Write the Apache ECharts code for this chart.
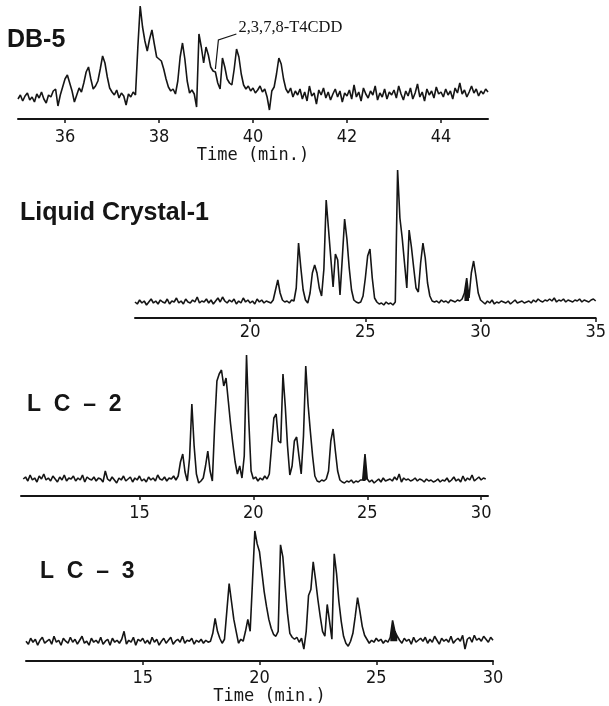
<!DOCTYPE html>
<html>
<head>
<meta charset="utf-8">
<script src="https://cdn.jsdelivr.net/npm/echarts@6/dist/echarts.min.js"></script>
<style>
html, body { margin: 0; padding: 0; background: #fff; }
#chart { width: 609px; height: 706px; }
</style>
</head>
<body>
<div id="chart"></div>
<script>
// DB-5 trace, 35.00 .. 45.00 min, one reading every 0.05 min
var db5Start = 35, db5Step = 0.05;
var db5 = [
    20, 24, 18, 23, 26, 19, 22, 17, 25, 21, 27, 20, 16, 24, 22, 28, 30, 13, 24, 32,
    40, 44, 36, 28, 17, 24, 31, 27, 36, 47, 52, 40, 30, 33, 38, 50, 63, 56, 42, 31,
    27, 24, 29, 21, 26, 23, 14, 25, 22, 27, 24, 72, 113, 92, 78, 68, 80, 89, 75, 62,
    60, 58, 50, 40, 32, 28, 30, 25, 38, 62, 76, 60, 38, 26, 29, 25, 12, 85, 72, 56,
    72, 64, 52, 48, 47, 36, 30, 61, 52, 40, 36, 34, 50, 70, 62, 45, 34, 30, 33, 28,
    31, 26, 29, 33, 27, 30, 22, 9, 28, 32, 45, 61, 55, 40, 30, 26, 31, 22, 28, 24,
    30, 20, 27, 18, 33, 23, 26, 15, 29, 24, 31, 21, 27, 19, 25, 30, 22, 28, 17, 26,
    23, 29, 20, 34, 22, 27, 18, 31, 25, 21, 28, 24, 33, 19, 26, 22, 30, 20, 27, 24,
    29, 21, 33, 25, 19, 28, 23, 31, 20, 26, 35, 22, 27, 18, 30, 24, 28, 21, 32, 25,
    27, 22, 30, 24, 28, 20, 31, 26, 36, 25, 29, 22, 27, 33, 26, 30, 23, 28, 25, 30, 27
];
var db5Ticks = [36, 38, 40, 42, 44];
var db5PeakTime = 39.2;
var db5PeakName = '2,3,7,8-T4CDD';

// Liquid Crystal-1, 15.0 .. 35.0 min every 0.1 min
var lc1Start = 15, lc1Step = 0.1;
var lc1 = [
    16, 14, 18, 15, 17, 13, 16, 19, 15, 17,
    14, 18, 16, 15, 19, 14, 17, 16, 20, 15,
    17, 14, 19, 16, 15, 18, 16, 21, 15, 17,
    16, 19, 15, 18, 14, 17, 20, 16, 21, 17,
    15, 18, 16, 19, 14, 17, 15, 20, 16, 18,
    15, 17, 14, 19, 16, 18, 15, 17, 16, 15,
    18, 28, 38, 25, 18, 16, 17, 15, 18, 17,
    30, 75, 50, 28, 18, 15, 25, 45, 53, 45,
    30, 22, 49, 118, 89, 60, 31, 64, 58, 23,
    60, 99, 79, 50, 28, 18, 16, 15, 16, 22,
    40, 62, 69, 40, 20, 16, 14, 15, 13, 16,
    14, 15, 13, 16, 148, 100, 80, 55, 30, 88,
    71, 50, 30, 26, 55, 75, 60, 35, 22, 17,
    16, 17, 15, 18, 16, 17, 15, 18, 17, 16,
    18, 17, 19, 25, 40, 20, 45, 57, 42, 25,
    18, 16, 14, 17, 15, 18, 14, 16, 15, 17,
    16, 15, 17, 14, 16, 18, 15, 16, 17, 15,
    16, 17, 15, 18, 16, 19, 17, 16, 18, 17,
    19, 17, 20, 16, 18, 17, 19, 16, 18, 17,
    16, 18, 17, 19, 16, 18, 17, 16, 18, 19,
    17
];
var lc1Ticks = [20, 25, 30, 35];
var lc1Shaded = [29.3, 29.5], lc1ShadeBase = 17;

// LC-2, 9.9 .. 30.2 min every 0.1 min
var lc2Start = 9.9, lc2Step = 0.1;
var lc2 = [
    17,
    19, 15, 21, 16, 18, 14, 20, 17, 22, 16,
    18, 15, 20, 17, 14, 19, 16, 21, 15, 18,
    17, 20, 15, 18, 16, 21, 14, 19, 17, 16,
    19, 15, 18, 17, 14, 25, 17, 15, 19, 16,
    13, 18, 16, 20, 15, 17, 19, 14, 18, 16,
    20, 15, 17, 14, 19, 16, 18, 15, 21, 17,
    16, 19, 15, 18, 17, 20, 16, 20, 34, 42,
    24, 15, 38, 92, 50, 22, 13, 15, 18, 30,
    45, 25, 15, 70, 115, 122, 126, 110, 118, 95,
    72, 52, 34, 22, 30, 18, 40, 141, 75, 25,
    17, 19, 15, 18, 16, 20, 17, 22, 50, 78,
    82, 55, 53, 122, 90, 50, 21, 30, 55, 59,
    40, 22, 60, 130, 92, 65, 40, 20, 15, 14,
    16, 15, 17, 25, 55, 67, 45, 25, 16, 14,
    13, 15, 14, 16, 13, 15, 14, 16, 16, 42,
    17, 14, 16, 13, 15, 17, 14, 18, 15, 16,
    17, 15, 19, 16, 22, 14, 18, 16, 17, 15,
    16, 18, 15, 17, 16, 14, 17, 15, 16, 14,
    15, 17, 14, 16, 15, 18, 14, 16, 19, 15,
    17, 14, 20, 15, 18, 16, 21, 15, 17, 19,
    16, 18, 17
];
var lc2Ticks = [15, 20, 25, 30];
var lc2Shaded = [24.8, 25.0], lc2ShadeBase = 15;

// LC-3, 10.0 .. 30.0 min every 0.1 min
var lc3Start = 10, lc3Step = 0.1;
var lc3 = [
    20, 17, 23, 19, 22, 16, 21, 24, 18, 20,
    22, 17, 25, 19, 21, 16, 23, 20, 18, 24,
    19, 22, 17, 21, 25, 18, 20, 16, 23, 19,
    21, 18, 24, 17, 20, 22, 16, 23, 19, 21,
    18, 22, 30, 17, 21, 19, 24, 16, 22, 20,
    23, 18, 21, 17, 24, 19, 22, 16, 20, 23,
    18, 21, 24, 17, 20, 22, 19, 25, 18, 21,
    20, 23, 17, 21, 19, 22, 18, 21, 19, 20,
    28, 43, 30, 23, 18, 22, 50, 78, 60, 42,
    30, 18, 22, 20, 30, 42, 30, 80, 131, 118,
    110, 90, 70, 55, 42, 33, 27, 25, 30, 117,
    105, 75, 48, 28, 24, 22, 24, 19, 23, 12,
    30, 66, 72, 100, 82, 62, 45, 30, 25, 57,
    40, 22, 108, 88, 60, 40, 25, 18, 15, 20,
    28, 45, 64, 50, 35, 26, 22, 18, 21, 19,
    23, 20, 22, 18, 21, 19, 24, 41, 30, 25,
    21, 18, 23, 20, 22, 17, 24, 19, 21, 23,
    20, 24, 18, 22, 19, 25, 21, 17, 23, 20,
    22, 19, 25, 18, 21, 23, 20, 26, 12, 22,
    24, 19, 26, 21, 23, 20, 25, 22, 19, 24,
    21
];
var lc3Ticks = [15, 20, 25, 30];
var lc3Shaded = [25.6, 25.9], lc3ShadeBase = 20;

var ink = '#151515';
var tickFont = "'Liberation Sans Narrow', 'DejaVu Sans Condensed', 'Liberation Sans', sans-serif";
var titleFont = "bold 25px 'Liberation Sans', Arial, sans-serif";
var lcFont = "bold 23px 'Liberation Sans', Arial, sans-serif";

function toPairs(start, step, vals) {
    return vals.map(function (v, i) {
        return [Math.round((start + i * step) * 100) / 100, v];
    });
}

function between(pairs, range) {
    return pairs.filter(function (p) {
        return p[0] >= range[0] - 1e-6 && p[0] <= range[1] + 1e-6;
    });
}

function xAxisFor(idx, min, max, ticks, margin, name, namePad) {
    var ax = {
        gridIndex: idx,
        type: 'value',
        min: min,
        max: max,
        axisLine: { onZero: false, lineStyle: { color: ink, width: 2 } },
        axisTick: { show: true, customValues: ticks, length: 4, lineStyle: { color: ink, width: 1.5 } },
        axisLabel: { customValues: ticks, margin: margin, color: ink, fontSize: 18, fontFamily: tickFont },
        splitLine: { show: false }
    };
    if (name) {
        ax.name = name;
        ax.nameLocation = 'middle';
        ax.nameGap = 26;
        ax.nameTextStyle = {
            color: ink, fontSize: 17, fontFamily: "'DejaVu Sans Mono', monospace",
            padding: namePad || 0
        };
    }
    return ax;
}

function yAxisFor(idx, max) {
    return { gridIndex: idx, type: 'value', min: 0, max: max, show: false };
}

function trace(idx, pairs) {
    return {
        type: 'line', xAxisIndex: idx, yAxisIndex: idx,
        data: pairs, symbol: 'none', showSymbol: false,
        lineStyle: { color: ink, width: 1.6 },
        silent: true
    };
}

function shade(idx, pairs, base) {
    return {
        type: 'line', xAxisIndex: idx, yAxisIndex: idx,
        data: pairs, symbol: 'none', showSymbol: false,
        lineStyle: { width: 0 },
        areaStyle: { color: ink, opacity: 1, origin: base },
        silent: true
    };
}

var db5Data = toPairs(db5Start, db5Step, db5);
var lc1Data = toPairs(lc1Start, lc1Step, lc1);
var lc2Data = toPairs(lc2Start, lc2Step, lc2);
var lc3Data = toPairs(lc3Start, lc3Step, lc3);

var titles = [
    { type: 'text', left: 7, top: 28, style: { text: 'DB-5', font: titleFont, fill: ink } },
    { type: 'text', left: 20, top: 201, style: { text: 'Liquid Crystal-1', font: titleFont, fill: ink } },
    { type: 'text', left: 27, top: 393, style: { text: 'L  C  \u2013  2', font: lcFont, fill: ink } },
    { type: 'text', left: 40, top: 560, style: { text: 'L  C  \u2013  3', font: lcFont, fill: ink } }
];

var chart = echarts.init(document.getElementById('chart'));

chart.setOption({
    animation: false,
    backgroundColor: '#fff',
    grid: [
        { left: 18, top: 4, width: 470, height: 115 },
        { left: 135, top: 168, width: 468, height: 150 },
        { left: 21, top: 351, width: 467, height: 145 },
        { left: 26, top: 527, width: 467, height: 135 }
    ],
    xAxis: [
        xAxisFor(0, 35, 45, db5Ticks, 9, 'Time (min.)'),
        xAxisFor(1, 15, 35, lc1Ticks, 5),
        xAxisFor(2, 9.8, 30.3, lc2Ticks, 8),
        xAxisFor(3, 10, 30, lc3Ticks, 8, 'Time (min.)', [0, 0, 0, 20])
    ],
    yAxis: [
        yAxisFor(0, 115),
        yAxisFor(1, 150),
        yAxisFor(2, 145),
        yAxisFor(3, 135)
    ],
    series: [
        trace(0, db5Data),
        trace(1, lc1Data),
        shade(1, between(lc1Data, lc1Shaded), lc1ShadeBase),
        trace(2, lc2Data),
        shade(2, between(lc2Data, lc2Shaded), lc2ShadeBase),
        trace(3, lc3Data),
        shade(3, between(lc3Data, lc3Shaded), lc3ShadeBase)
    ],
    graphic: titles
});

// leader line for the labelled peak, placed from the peak's own data point
var peakIdx = Math.round((db5PeakTime - db5Start) / db5Step);
var p = chart.convertToPixel({ gridIndex: 0 }, [db5PeakTime, db5[peakIdx]]);
chart.setOption({
    graphic: titles.concat([
        {
            type: 'polyline',
            shape: { points: [[p[0], p[1] - 3], [p[0] + 3, p[1] - 32], [p[0] + 21, p[1] - 38]] },
            style: { stroke: ink, lineWidth: 1.2, fill: null }
        },
        {
            type: 'text', x: p[0] + 23, y: p[1] - 44,
            style: {
                text: db5PeakName, fill: ink, textVerticalAlign: 'middle',
                font: "16.5px 'Liberation Serif', 'Times New Roman', serif"
            }
        }
    ])
}, { replaceMerge: ['graphic'] });
</script>
</body>
</html>
